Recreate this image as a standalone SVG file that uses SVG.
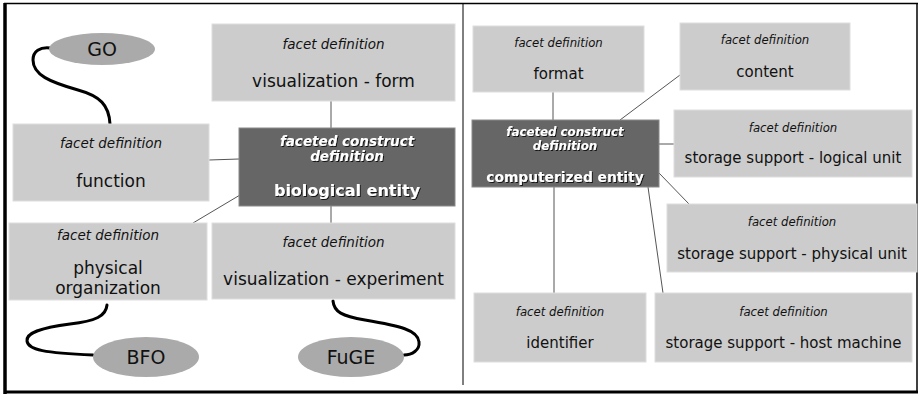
<svg xmlns="http://www.w3.org/2000/svg" width="920" height="397" viewBox="0 0 920 397">
  <defs>
    <style>
      .facet { fill: #cccccc; stroke: #dedede; stroke-width: 1; }
      .core { fill: #666666; stroke: #8a8a8a; stroke-width: 1; }
      .onto { fill: #aaaaaa; }
      .t { font-family: "DejaVu Sans", "Liberation Sans", sans-serif; fill: #111111; text-anchor: middle; }
      .sub { font-style: italic; font-size: 13.5px; }
      .lbl { font-size: 17px; }
      .subR { font-style: italic; font-size: 11.7px; }
      .lblR { font-size: 15px; }
      .onl { font-size: 19px; }
      .w { fill: #ffffff; font-weight: bold; filter: url(#shadow); }
      .link { stroke: #555555; stroke-width: 1; fill: none; }
      .curl { stroke: #000000; stroke-width: 3; fill: none; stroke-linecap: round; }
      .frame { stroke: #000000; fill: none; }
    </style>
    <filter id="shadow" x="-10%" y="-30%" width="120%" height="160%">
      <feDropShadow dx="1" dy="1" stdDeviation="0.6" flood-color="#000000" flood-opacity="0.8"/>
    </filter>
  </defs>

  <rect x="0" y="0" width="920" height="397" fill="#ffffff"/>

  <!-- outer frame and panel divider -->
  <g id="frame">
    <line class="frame" x1="4" y1="3.5" x2="918" y2="3.5" stroke-width="1.5"/>
    <line class="frame" x1="917" y1="3" x2="917" y2="393" stroke-width="1.5"/>
    <line class="frame" x1="5" y1="3" x2="5" y2="394" stroke-width="3.5"/>
    <line class="frame" x1="4" y1="392" x2="918" y2="392" stroke-width="3"/>
    <line class="frame" x1="463" y1="3" x2="463" y2="385" stroke-width="1"/>
  </g>

  <!-- connectors -->
  <g id="connectors">
    <line class="link" x1="331" y1="101" x2="331" y2="128"/>
    <line class="link" x1="209" y1="160" x2="239" y2="159"/>
    <line class="link" x1="240" y1="195" x2="193" y2="223"/>
    <line class="link" x1="331" y1="206" x2="331" y2="223"/>
    <path class="curl" d="M50,48 C40,47 33,51 33,60 C33,75 50,82 78,90 C100,96 109,105 110,124"/>
    <path class="curl" d="M107,305 C106,316 96,321 70,324 C40,328 26,333 27,341 C28,350 45,353 93,355"/>
    <path class="curl" d="M333,301 C334,312 342,316 365,320 C400,326 418,330 419,342 C420,350 412,355 404,355"/>

    <line class="link" x1="553" y1="92" x2="553" y2="120"/>
    <line class="link" x1="680" y1="75" x2="620" y2="120"/>
    <line class="link" x1="659" y1="144" x2="674" y2="144"/>
    <line class="link" x1="659" y1="173" x2="689" y2="204"/>
    <line class="link" x1="648" y1="187" x2="663" y2="293"/>
    <line class="link" x1="554" y1="187" x2="554" y2="293"/>
  </g>

  <!-- left panel -->
  <g id="go">
    <ellipse class="onto" cx="102" cy="49" rx="53" ry="16"/>
    <text class="t onl" x="102" y="55.5">GO</text>
  </g>
  <g id="visualization-form">
    <rect class="facet" x="212" y="24" width="243" height="77"/>
    <text class="t sub" x="333.5" y="49">facet definition</text>
    <text class="t lbl" x="333.5" y="87">visualization - form</text>
  </g>
  <g id="function">
    <rect class="facet" x="13" y="124" width="196" height="77"/>
    <text class="t sub" x="111" y="148">facet definition</text>
    <text class="t lbl" x="111" y="187">function</text>
  </g>
  <g id="biological-entity">
    <rect class="core" x="239" y="128" width="216" height="78"/>
    <text class="t w" x="347" y="146" font-size="13.5" font-style="italic">faceted construct</text>
    <text class="t w" x="347" y="161" font-size="13.5" font-style="italic">definition</text>
    <text class="t w" x="347" y="196" font-size="16">biological entity</text>
  </g>
  <g id="physical-organization">
    <rect class="facet" x="9" y="223" width="198" height="77"/>
    <text class="t sub" x="108" y="240">facet definition</text>
    <text class="t lbl" x="108" y="274">physical</text>
    <text class="t lbl" x="108" y="294">organization</text>
  </g>
  <g id="visualization-experiment">
    <rect class="facet" x="212" y="223" width="243" height="76"/>
    <text class="t sub" x="333.5" y="247">facet definition</text>
    <text class="t lbl" x="333.5" y="285">visualization - experiment</text>
  </g>
  <g id="bfo">
    <ellipse class="onto" cx="146" cy="357" rx="53" ry="20"/>
    <text class="t onl" x="146" y="363.5">BFO</text>
  </g>
  <g id="fuge">
    <ellipse class="onto" cx="351" cy="357" rx="53" ry="20"/>
    <text class="t onl" x="351" y="363.5">FuGE</text>
  </g>

  <!-- right panel -->
  <g id="format">
    <rect class="facet" x="473" y="26" width="171" height="66"/>
    <text class="t subR" x="558.5" y="47">facet definition</text>
    <text class="t lblR" x="558.5" y="79">format</text>
  </g>
  <g id="content">
    <rect class="facet" x="680" y="23" width="170" height="67"/>
    <text class="t subR" x="765" y="44">facet definition</text>
    <text class="t lblR" x="765" y="77">content</text>
  </g>
  <g id="computerized-entity">
    <rect class="core" x="472" y="120" width="187" height="67"/>
    <text class="t w" x="565" y="136" font-size="11.8" font-style="italic">faceted construct</text>
    <text class="t w" x="565" y="150" font-size="11.8" font-style="italic">definition</text>
    <text class="t w" x="565" y="182" font-size="13.8">computerized entity</text>
  </g>
  <g id="logical-unit">
    <rect class="facet" x="674" y="110" width="238" height="67"/>
    <text class="t subR" x="793" y="132">facet definition</text>
    <text class="t lblR" x="793" y="163">storage support - logical unit</text>
  </g>
  <g id="physical-unit">
    <rect class="facet" x="667" y="204" width="250" height="68"/>
    <text class="t subR" x="792" y="226">facet definition</text>
    <text class="t lblR" x="792" y="259">storage support - physical unit</text>
  </g>
  <g id="identifier">
    <rect class="facet" x="474" y="293" width="172" height="69"/>
    <text class="t subR" x="560" y="316">facet definition</text>
    <text class="t lblR" x="560" y="348">identifier</text>
  </g>
  <g id="host-machine">
    <rect class="facet" x="655" y="293" width="257" height="69"/>
    <text class="t subR" x="783.5" y="316">facet definition</text>
    <text class="t lblR" x="783.5" y="348">storage support - host machine</text>
  </g>
</svg>
